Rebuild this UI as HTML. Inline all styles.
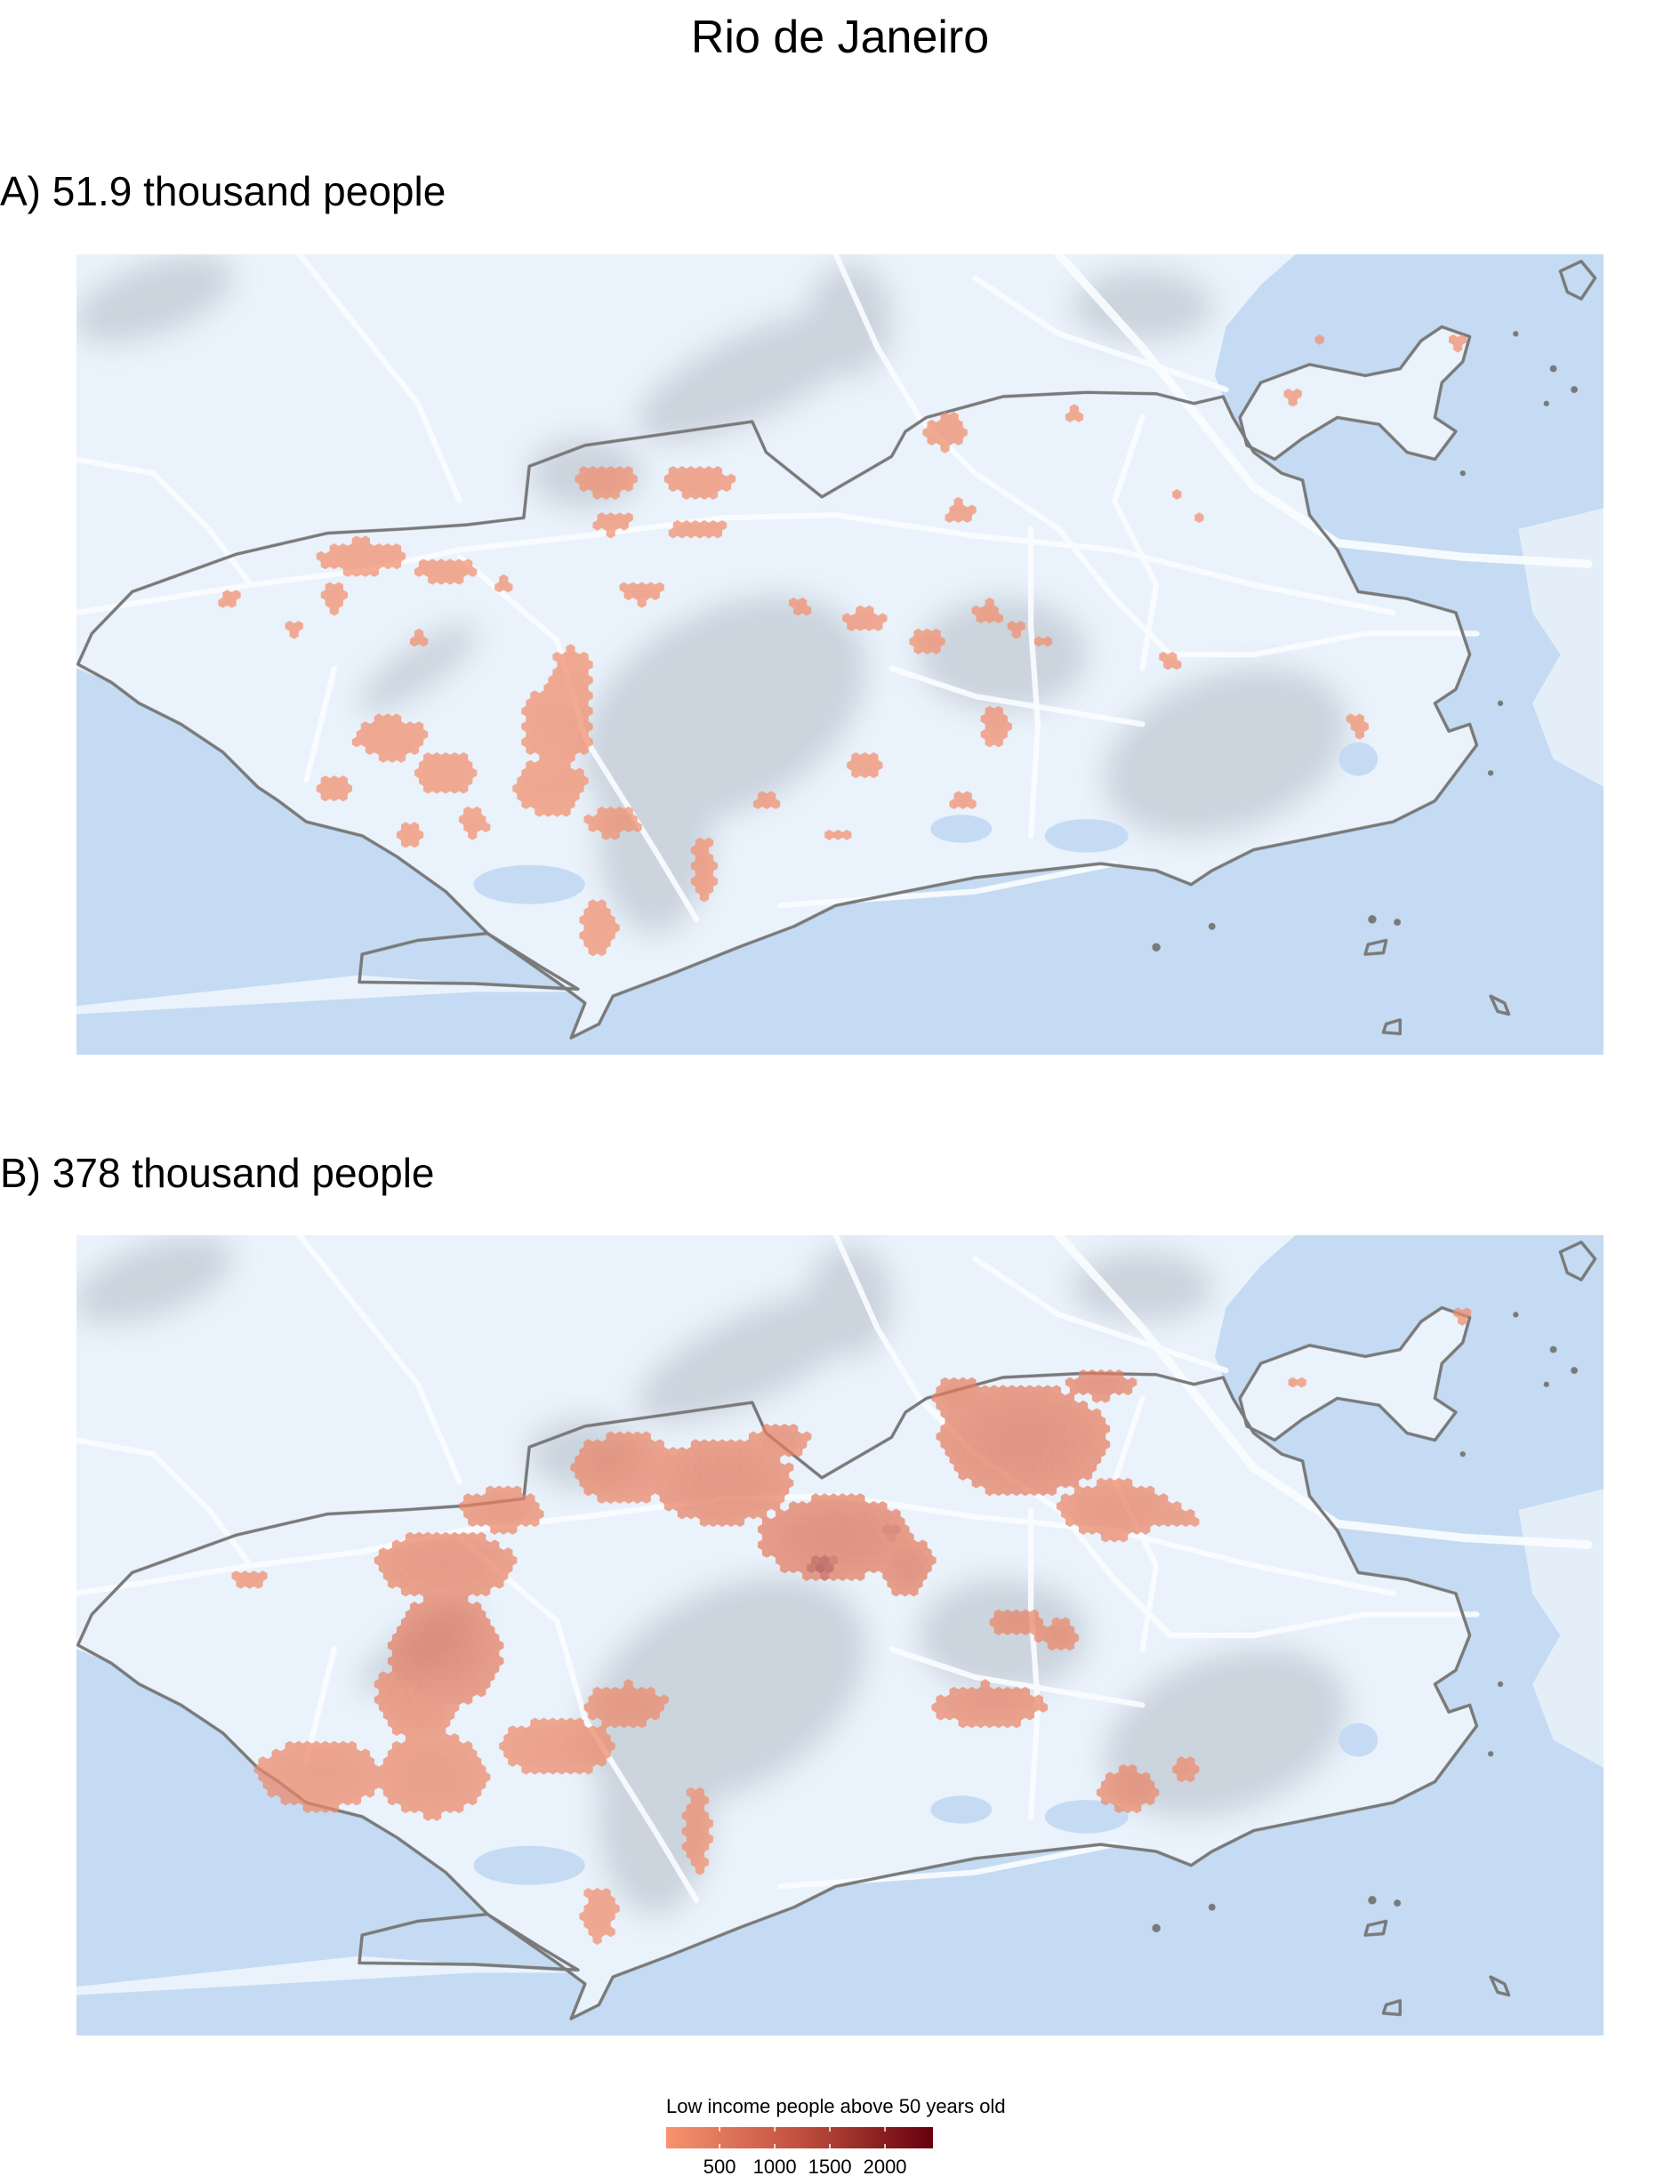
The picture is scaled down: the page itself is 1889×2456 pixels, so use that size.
<!DOCTYPE html>
<html><head><meta charset="utf-8">
<style>
html,body{margin:0;padding:0;background:#fff;}
body{width:1889px;height:2456px;position:relative;overflow:hidden;font-family:"Liberation Sans",sans-serif;}
.t{position:absolute;white-space:nowrap;color:#000;}
svg.map{position:absolute;left:86px;width:1717px;height:900px;}
</style></head>
<body>
<div class="t" style="left:0;width:1889px;text-align:center;top:12px;font-size:52px;">Rio de Janeiro</div>
<div class="t" style="left:0;top:188px;font-size:46px;">A) 51.9 thousand people</div>
<div class="t" style="left:0;top:1292px;font-size:46px;">B) 378 thousand people</div>

<svg width="0" height="0" style="position:absolute">
<defs>
<filter id="blur" x="-20%" y="-20%" width="140%" height="140%"><feGaussianBlur stdDeviation="10"/></filter>
<g id="base">
<rect x="55" y="183" width="1096" height="574" fill="#c4dbf3"/>
<polygon fill="#eaf2fb" points="55,183 930,183 905,205 880,235 872,270 880,290 900,325 920,340 935,345 940,370 960,395 975,425 1010,430 1045,440 1055,470 1045,495 1030,505 1040,525 1055,520 1060,535 1045,555 1030,575 1000,590 950,600 900,610 870,625 855,635 830,625 790,620 700,630 600,650 570,665 530,680 480,700 440,715 430,735 410,745 420,720 400,705 350,670 320,640 285,615 260,600 220,590 200,575 185,565 160,540 130,520 100,505 80,490 55,480"/>
<polygon fill="#eaf2fb" points="55,722 258,700 415,712 340,712 55,728"/>
<polygon fill="#e4eef9" points="1090,380 1151,365 1151,565 1115,545 1100,505 1120,470 1100,440"/>
<polygon fill="#eaf2fb" points="890,300 905,275 940,262 980,270 1005,265 1020,245 1035,235 1055,242 1050,260 1035,275 1030,300 1045,310 1030,330 1010,325 990,305 960,300 935,315 915,330 895,320"/>
<g filter="url(#blur)" fill="#8e98a3" opacity="0.33">
<ellipse cx="520" cy="510" rx="110" ry="70" transform="rotate(-30 520 510)"/>
<ellipse cx="470" cy="600" rx="40" ry="70"/>
<ellipse cx="880" cy="540" rx="90" ry="55" transform="rotate(-20 880 540)"/>
<ellipse cx="720" cy="470" rx="60" ry="40"/>
<ellipse cx="540" cy="270" rx="90" ry="30" transform="rotate(-25 540 270)"/>
<ellipse cx="610" cy="230" rx="30" ry="40"/>
<ellipse cx="110" cy="215" rx="60" ry="25" transform="rotate(-20 110 215)"/>
<ellipse cx="300" cy="480" rx="50" ry="15" transform="rotate(-35 300 480)"/>
<ellipse cx="420" cy="340" rx="40" ry="25"/>
<ellipse cx="820" cy="220" rx="50" ry="25"/>
</g>
<g fill="none" stroke="#fbfdff" stroke-width="4" stroke-linecap="round" opacity="0.9">
<polyline points="55,440 180,420 260,410 330,395 420,385 520,372 600,370 700,385 800,395 900,420 1000,440"/>
<polyline points="330,400 400,460 420,530 470,610 500,660"/>
<polyline points="560,650 700,640 800,620"/>
<polyline points="600,183 630,250 660,300 700,340 760,380 800,430 840,470 900,470 980,455 1060,455"/>
<polyline points="760,183 820,250 860,300 900,350 960,390 1050,400 1140,405" stroke-width="6"/>
<polyline points="740,380 740,450 745,520 740,600"/>
<polyline points="215,183 300,290 330,360"/>
<polyline points="700,200 760,240 820,260 880,280"/>
<polyline points="820,300 800,360 830,420 820,480"/>
<polyline points="640,480 700,500 760,510 820,520"/>
<polyline points="240,480 220,560" />
<polyline points="55,330 110,340 150,380 180,420"/>
</g>
<g fill="#c4dbf3">
<ellipse cx="380" cy="635" rx="40" ry="14"/>
<ellipse cx="690" cy="595" rx="22" ry="10"/>
<ellipse cx="780" cy="600" rx="30" ry="12"/>
<ellipse cx="975" cy="545" rx="14" ry="12"/>
</g>
<g fill="none" stroke="#7a7a7a" stroke-width="2.2" stroke-linejoin="round">
<polygon points="56,477 66,455 95,425 170,398 235,383 290,380 335,377 376,372 380,335 420,320 540,303 550,325 590,357 640,328 650,310 665,300 720,285 780,282 830,283 857,290 878,285 885,300 900,325 920,340 935,345 940,370 960,395 975,425 1010,430 1045,440 1055,470 1045,495 1030,505 1040,525 1055,520 1060,535 1045,555 1030,575 1000,590 950,600 900,610 870,625 855,635 830,625 790,620 700,630 600,650 570,665 530,680 480,700 440,715 430,735 410,745 420,720 400,705 350,670 320,640 285,615 260,600 220,590 200,575 185,565 160,540 130,520 100,505 80,490"/>
<polygon points="258,705 260,685 300,675 350,670 390,695 415,710 340,706"/>
<polygon points="890,300 905,275 940,262 980,270 1005,265 1020,245 1035,235 1055,242 1050,260 1035,275 1030,300 1045,310 1030,330 1010,325 990,305 960,300 935,315 915,330 895,320"/>
<polygon points="1120,195 1135,188 1145,200 1135,215 1125,210"/>
<polygon points="1070,715 1080,720 1083,728 1075,726"/>
<polygon points="995,735 1005,732 1005,742 993,741"/>
<polygon points="982,678 995,675 993,684 980,685"/>
</g>
<g fill="#7a7a7a">
<circle cx="830" cy="680" r="3"/><circle cx="870" cy="665" r="2.5"/><circle cx="985" cy="660" r="3"/><circle cx="1003" cy="662" r="2.5"/>
<circle cx="1115" cy="265" r="2.5"/><circle cx="1130" cy="280" r="2.5"/><circle cx="1110" cy="290" r="2"/><circle cx="1088" cy="240" r="2"/><circle cx="1050" cy="340" r="2"/>
<circle cx="1077" cy="505" r="2"/><circle cx="1070" cy="555" r="2"/>
</g>
</g>
</defs>
</svg>

<svg class="map" id="mapA" style="top:286px" viewBox="55 183 1096 574" preserveAspectRatio="none">
<use href="#base"/><g id="hexA"></g>
</svg>
<svg class="map" id="mapB" style="top:1389px" viewBox="55 183 1096 574" preserveAspectRatio="none">
<use href="#base"/><g id="hexB"></g>
</svg>

<div class="t" style="left:749px;top:2356px;font-size:22px;">Low income people above 50 years old</div>
<svg style="position:absolute;left:740px;top:2388px" width="330" height="68">
<defs><linearGradient id="lg" x1="0" x2="1"><stop offset="0" stop-color="#f7936f"/><stop offset="0.5" stop-color="#c0503f"/><stop offset="1" stop-color="#67000d"/></linearGradient></defs>
<rect x="9" y="4" width="300" height="24" fill="url(#lg)"/>
<g id="legTicks"></g>
</svg>

<script>
// Legend scale
const legendMin = 15;
const legendMax = 2435;
const legendTicks = [500, 1000, 1500, 2000];
// Panel A hex clusters (map coordinates)
const clusterAx = [435,500,440,500,260,320,240,165,410,400,280,240,320,395,440,295,340,505,430,460,575,620,665,710,730,750,840,715,690,620,680,690,770,845,975,550,600,210,300,360,950,1045,930,760,860];
const clusterAy = [345,345,375,380,400,410,430,430,490,520,530,565,555,565,590,600,590,625,665,425,435,445,460,440,450,460,475,520,575,550,310,368,297,355,520,575,600,450,460,420,245,245,285,380,370];
const clusterArx = [20,25,15,20,30,20,10,8,15,25,25,10,20,25,20,10,10,8,12,15,8,15,12,10,8,5,8,10,10,15,15,10,6,5,8,10,10,6,6,6,3,5,8,3,3];
const clusterAry = [12,12,8,8,12,10,10,6,25,30,15,10,15,20,10,8,10,25,20,8,5,8,8,8,6,5,6,15,6,8,12,8,5,5,8,5,5,6,6,6,3,5,4,3,3];
const clusterAval = [180,220,160,180,170,160,150,150,190,200,170,150,180,190,170,150,150,150,160,170,150,170,160,160,150,150,150,200,170,160,230,180,150,150,150,150,150,150,150,150,150,150,150,150,150];
// Panel B hex clusters
const clusterBx = [450,520,600,735,800,320,320,300,230,310,400,450,730,710,180,500,430,810,850,1050,930,360,560,650,690,790,760,840,590,640];
const clusterBy = [350,360,400,330,380,420,480,515,570,570,550,520,460,520,430,610,670,580,565,240,290,380,330,420,300,290,470,385,420,395];
const clusterBrx = [40,50,55,60,40,50,40,30,45,40,40,30,20,40,12,10,12,20,8,5,5,30,20,20,20,25,15,20,10,8];
const clusterBry = [25,30,30,40,20,25,40,30,25,30,20,15,10,15,6,30,20,15,8,5,3,15,12,20,15,10,10,8,8,6];
const clusterBval = [380,520,650,600,420,450,600,400,320,350,300,280,380,420,220,200,200,380,250,220,200,400,450,600,500,550,350,350,1500,900];

const NS='http://www.w3.org/2000/svg';
const DX=6.4, DY=5.55, R=3.75;
function col(v){
  const t=Math.max(0,Math.min(1,(v-legendMin)/(legendMax-legendMin)));
  const s=[[247,147,111],[192,80,63],[103,0,13]];
  const k=t<0.5?0:1, u=t<0.5?t*2:(t-0.5)*2;
  const a=s[k],b=s[k+1];
  return 'rgb('+a.map((c,i)=>Math.round(c+(b[i]-c)*u)).join(',')+')';
}
function hexPts(x,y){
  let p=[];
  for(let i=0;i<6;i++){const a=Math.PI/3*i+Math.PI/6;p.push((x+R*Math.cos(a)).toFixed(2)+','+(y+R*Math.sin(a)).toFixed(2));}
  return p.join(' ');
}
function drawHex(gid,xs,ys,rxs,rys,vals){
  const g=document.getElementById(gid);
  const seen={};
  for(let c=0;c<xs.length;c++){
    const r0=Math.floor((ys[c]-rys[c])/DY), r1=Math.ceil((ys[c]+rys[c])/DY);
    for(let r=r0;r<=r1;r++){
      const off=(r%2)?DX/2:0;
      const q0=Math.floor((xs[c]-rxs[c])/DX)-1, q1=Math.ceil((xs[c]+rxs[c])/DX)+1;
      for(let q=q0;q<=q1;q++){
        const x=q*DX+off, y=r*DY;
        const nx=(x-xs[c])/Math.max(rxs[c],2.5), ny=(y-ys[c])/Math.max(rys[c],2.5);
        if(nx*nx+ny*ny>1) continue;
        const key=q+'_'+r;
        const v=vals[c]*(1-0.35*(nx*nx+ny*ny));
        if(seen[key]){ if(v>seen[key].v){seen[key].v=v;seen[key].el.setAttribute('fill',col(v));} continue;}
        const h=document.createElementNS(NS,'polygon');
        h.setAttribute('points',hexPts(x,y));
        h.setAttribute('fill',col(v));
        h.setAttribute('fill-opacity','0.72');
        
        
        g.appendChild(h);
        seen[key]={v:v,el:h};
      }
    }
  }
}
drawHex('hexA',clusterAx,clusterAy,clusterArx,clusterAry,clusterAval);
drawHex('hexB',clusterBx,clusterBy,clusterBrx,clusterBry,clusterBval);

const lt=document.getElementById('legTicks');
legendTicks.forEach(v=>{
  const x=9+300*(v-legendMin)/(legendMax-legendMin);
  [[4,9],[23,28]].forEach(([a,b])=>{
    const l=document.createElementNS(NS,'line');
    l.setAttribute('x1',x);l.setAttribute('x2',x);l.setAttribute('y1',a);l.setAttribute('y2',b);
    l.setAttribute('stroke','#fff');l.setAttribute('stroke-width','1.5');
    
    
    lt.appendChild(l);
  });
  const t=document.createElementNS(NS,'text');
  t.setAttribute('x',x);t.setAttribute('y',56);t.setAttribute('text-anchor','middle');
  t.setAttribute('font-size','22');t.setAttribute('font-family','Liberation Sans, sans-serif');
  t.textContent=v;
  
  
  lt.appendChild(t);
});
</script>
</body></html>
